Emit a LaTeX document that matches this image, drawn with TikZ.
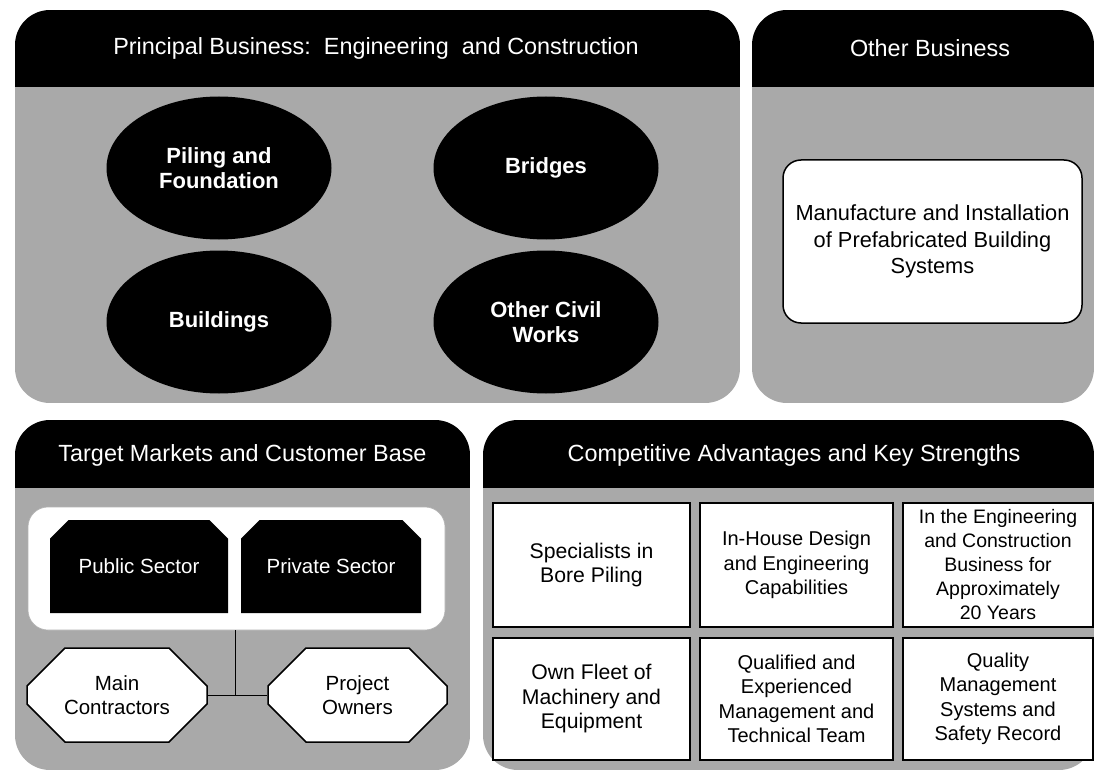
\documentclass[tikz,border=0pt]{standalone}
\usepackage{fontspec}
\setmainfont{Liberation Sans}
\usetikzlibrary{shapes.geometric,shapes.misc}
\definecolor{panelgray}{HTML}{A9A9A9}
\tikzset{
  x=1pt, y=-1pt,
  title/.style={text=white, font=\fontsize{23.4}{27}\selectfont, inner sep=0pt},
  oval/.style={ellipse, fill=black, text=white, inner sep=0pt, minimum width=225, minimum height=143,
    align=center, font=\fontsize{22}{24.5}\selectfont\bfseries},
  whitebox/.style={rectangle, rounded corners=18, fill=white, draw=black, line width=1.5pt, inner sep=0pt,
    align=center, font=\fontsize{21.8}{26.5}\selectfont},
  sector/.style={chamfered rectangle, chamfered rectangle corners={north west,north east},
    chamfered rectangle xsep=11pt, chamfered rectangle ysep=11pt, fill=black, text=white, inner sep=0pt,
    font=\fontsize{20.5}{24}\selectfont},
  octo/.style={chamfered rectangle, chamfered rectangle xsep=19pt, chamfered rectangle ysep=19pt,
    fill=white, draw=black, line width=1.5pt, inner sep=0pt, align=center, font=\fontsize{20.5}{24.5}\selectfont},
  advbox/.style={rectangle, fill=white, draw=black, line width=2.5pt, inner sep=0pt, align=center,
    font=\fontsize{20}{24.5}\selectfont},
  bigadv/.style={font=\fontsize{21.2}{24.5}\selectfont},
  link/.style={draw=black, line width=1pt}
}
\begin{document}
\begin{tikzpicture}
\useasboundingbox (0,0) rectangle (1096,773);
\fill[white] (0,0) rectangle (1096,773);
% Panel 1
\begin{scope}
\clip[rounded corners=35] (15,10) rectangle (740,403);
\fill[panelgray] (15,87) rectangle (740,403);
\fill[black] (15,10) rectangle (740,87);
\end{scope}
\node[title] (t1) at (376,48.5) {Principal Business:\ \ Engineering\ \ and Construction};
% Panel 2
\begin{scope}
\clip[rounded corners=35] (752,10) rectangle (1094,403);
\fill[panelgray] (752,87) rectangle (1094,403);
\fill[black] (752,10) rectangle (1094,87);
\end{scope}
\node[title] (t2) at (930,48.5) {Other Business};
% Panel 3
\begin{scope}
\clip[rounded corners=35] (15,420) rectangle (470,770);
\fill[panelgray] (15,488) rectangle (470,770);
\fill[black] (15,420) rectangle (470,488);
\end{scope}
\node[title] (t3) at (242.5,455) {Target Markets and Customer Base};
% Panel 4
\begin{scope}
\clip[rounded corners=35] (483,420) rectangle (1094,770);
\fill[panelgray] (483,488) rectangle (1094,770);
\fill[black] (483,420) rectangle (1094,488);
\end{scope}
\node[title] (t4) at (794,455) {Competitive Advantages and Key Strengths};

% Principal business ovals
\node[oval] (pf) at (219,168) {Piling and\\Foundation};
\node[oval] (br) at (546,168) {Bridges};
\node[oval] (bu) at (219,322) {Buildings};
\node[oval] (oc) at (546,322) {Other Civil\\Works};

% Other business
\node[whitebox, minimum width=299, minimum height=163] (ob) at (932.5,241.5)
  {Manufacture and Installation\\of Prefabricated Building\\Systems};

% Target markets
\node[rectangle, rounded corners=20, fill=white, draw=gray!60, line width=0.6pt, minimum width=417, minimum height=123] (tm) at (236.5,568.5) {};
\node[sector, minimum width=178, minimum height=93] (pub) at (139,566.5) {Public Sector};
\node[sector, minimum width=180, minimum height=93] (priv) at (331,566.5) {Private Sector};
\node[octo, minimum width=180, minimum height=94] (mc) at (117,695) {Main\\Contractors};
\node[octo, minimum width=179, minimum height=94] (po) at (357.5,695) {Project\\Owners};
\coordinate (jn) at (235,695);
\draw[link] (tm.south -| jn) -- (jn);
\draw[link] (mc.east) -- (po.west);

% Competitive advantages
\node[advbox, bigadv, minimum width=197, minimum height=124] (a1) at (591.5,565) {Specialists in\\Bore Piling};
\node[advbox, minimum width=193, minimum height=124] (a2) at (796.5,565) {In-House Design\\and Engineering\\Capabilities};
\node[advbox, minimum width=190, minimum height=124, font=\fontsize{19.5}{24}\selectfont] (a3) at (998,565) {In the Engineering\\and Construction\\Business for\\Approximately\\20 Years};
\node[advbox, bigadv, minimum width=197, minimum height=122] (a4) at (591.5,699) {Own Fleet of\\Machinery and\\Equipment};
\node[advbox, minimum width=193, minimum height=122] (a5) at (796.5,699) {Qualified and\\Experienced\\Management and\\Technical Team};
\node[advbox, minimum width=190, minimum height=122] (a6) at (998,699) {Quality\\Management\\Systems and\\Safety Record};
\end{tikzpicture}
\end{document}
